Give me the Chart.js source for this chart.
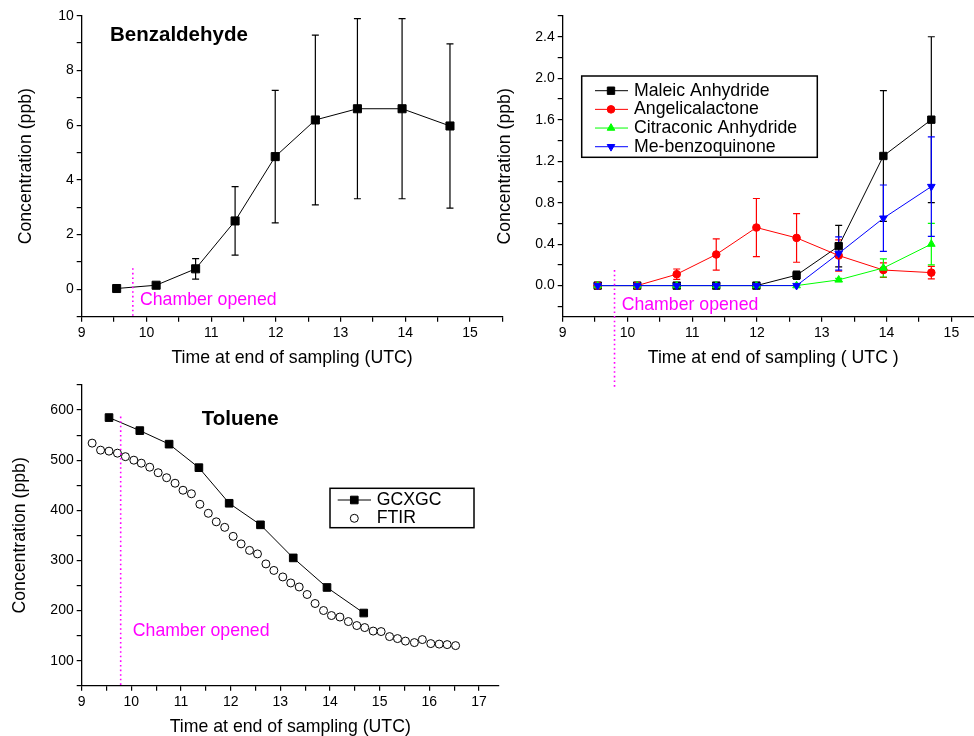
<!DOCTYPE html>
<html lang="en">
<head>
  <meta charset="UTF-8" />
  <title>Chamber VOC concentrations</title>
  <script src="https://cdn.jsdelivr.net/npm/chart.js@4.4.1/dist/chart.umd.min.js"></script>
  <style>
    * { margin: 0; padding: 0; box-sizing: border-box; }
    body {
      width: 974px;
      height: 736px;
      overflow: hidden;
      background: #ffffff;
      position: relative;
    }
    canvas { position: absolute; }
    #benzChart { left: 0; top: 0; }
    #quinoneChart { left: 490px; top: 0; }
    #tolueneChart { left: 0; top: 370px; }
  </style>
</head>
<body>
  <canvas id="benzChart" width="510" height="372"></canvas>
  <canvas id="quinoneChart" width="500" height="392"></canvas>
  <canvas id="tolueneChart" width="520" height="380"></canvas>

  <script>
    // ---- data ----
    // sampling end times (UTC hours), shared by the GCxGC panels
    const sampleTime = [9.54, 10.15, 10.76, 11.37, 11.99, 12.61, 13.26, 13.95, 14.69];

    // Benzaldehyde (ppb) and error bars
    const benzConc = [0.03, 0.15, 0.75, 2.5, 4.85, 6.19, 6.6, 6.6, 5.97];
    const benzErr  = [0, 0, 0.375, 1.25, 2.42, 3.1, 3.29, 3.29, 3.0];

    // ring-opening products (ppb)
    const maleicConc     = [0, 0, 0, 0, 0, 0.10, 0.38, 1.25, 1.60];
    const maleicErr      = [0, 0, 0, 0, 0, 0.04, 0.20, 0.63, 0.80];
    const angelicaConc   = [0, 0, 0.11, 0.30, 0.56, 0.46, 0.29, 0.15, 0.125];
    const angelicaErr    = [0, 0, 0.05, 0.15, 0.28, 0.235, 0.15, 0.07, 0.06];
    const citraconicConc = [0, 0, 0, 0, 0, 0, 0.055, 0.17, 0.40];
    const citraconicErr  = [0, 0, 0, 0, 0, 0, 0.015, 0.087, 0.20];
    const quinoneConc    = [0, 0, 0, 0, 0, 0, 0.31, 0.65, 0.955];
    const quinoneErr     = [0, 0, 0, 0, 0, 0, 0.16, 0.32, 0.48];

    // Toluene, GCxGC
    const gcTime = [9.55, 10.17, 10.76, 11.36, 11.97, 12.60, 13.26, 13.94, 14.68];
    const gcConc = [585, 559, 532, 485, 414, 371, 305, 246, 195];

    // Toluene, FTIR
    const ftirTime = [9.21, 9.38, 9.55, 9.72, 9.88, 10.05, 10.20, 10.37, 10.54, 10.71,
                      10.88, 11.04, 11.21, 11.38, 11.55, 11.71, 11.88, 12.05, 12.21, 12.38,
                      12.54, 12.71, 12.87, 13.05, 13.21, 13.38, 13.54, 13.70, 13.87, 14.03,
                      14.20, 14.37, 14.54, 14.70, 14.87, 15.03, 15.20, 15.36, 15.52, 15.70,
                      15.86, 16.03, 16.20, 16.36, 16.53];
    const ftirConc = [534, 520, 518, 514, 507, 500, 494, 486, 475, 465,
                      454, 440, 433, 412, 394, 377, 366, 348, 333, 320,
                      313, 293, 280, 267, 255, 247, 232, 214, 200, 190,
                      187, 178, 170, 166, 159, 158, 148, 144, 139, 136,
                      142, 134, 133, 132, 130];

    const chamberOpened = 9.79;   // UTC hour the chamber was opened

    // ---- common styling ----
    const FONT = "'Liberation Sans', Arial, Helvetica, sans-serif";
    Chart.defaults.font.family = FONT;
    Chart.defaults.color = '#000';
    Chart.defaults.animation = false;

    const pts = (xs, ys) => xs.map((x, i) => ({ x: x, y: ys[i] }));

    // axis with outward ticks, labels only on the major ones
    function makeAxis(o) {
      return {
        type: 'linear',
        min: o.min,
        max: o.max,
        afterFit: s => { if (s.isHorizontal()) s.height = o.size; else s.width = o.size; },
        border: { display: true, color: '#000', width: 1.3 },
        grid: { drawOnChartArea: false, drawTicks: true, tickLength: 5, color: '#000', lineWidth: 1.2 },
        ticks: {
          stepSize: o.step,
          includeBounds: false,
          autoSkip: false,
          maxRotation: 0,
          padding: 3,
          color: '#000',
          font: { size: 14 },
          callback: v => o.major(v) ? o.fmt(v) : ''
        },
        title: { display: true, text: o.title, color: '#000', font: { size: 17.7 }, padding: o.titlePad }
      };
    }
    const isInt = v => Math.abs(v - Math.round(v)) < 1e-6;

    // error bars, dotted "chamber opened" marker, panel title, boxed legend
    const decorPlugin = {
      id: 'decor',
      beforeDatasetsDraw(chart) {
        const { ctx, scales: { x, y } } = chart;
        chart.data.datasets.forEach(ds => {
          if (!ds.errors) return;
          ctx.save();
          ctx.strokeStyle = ds.borderColor;
          ctx.lineWidth = 1.2;
          ds.data.forEach((p, i) => {
            const e = ds.errors[i];
            if (!e) return;
            const px = x.getPixelForValue(p.x);
            const top = y.getPixelForValue(p.y + e);
            const bot = y.getPixelForValue(p.y - e);
            ctx.beginPath();
            ctx.moveTo(px, top); ctx.lineTo(px, bot);
            ctx.moveTo(px - 3.5, top); ctx.lineTo(px + 3.5, top);
            ctx.moveTo(px - 3.5, bot); ctx.lineTo(px + 3.5, bot);
            ctx.stroke();
          });
          ctx.restore();
        });
      },
      afterDraw(chart, args, opts) {
        const { ctx, scales: { x, y } } = chart;
        ctx.save();

        // chamber opened marker
        const c = opts.chamber;
        const cx = x.getPixelForValue(c.x);
        ctx.strokeStyle = '#ff00ff';
        ctx.lineWidth = 1.6;
        ctx.setLineDash([1.6, 3]);
        ctx.beginPath();
        ctx.moveTo(cx, y.getPixelForValue(c.top));
        ctx.lineTo(cx, y.bottom + c.extend);
        ctx.stroke();
        ctx.setLineDash([]);
        ctx.fillStyle = '#ff00ff';
        ctx.font = '17.7px ' + FONT;
        ctx.textAlign = 'left';
        ctx.textBaseline = 'middle';
        ctx.fillText('Chamber opened', x.getPixelForValue(c.labelX), y.getPixelForValue(c.labelY));

        // panel title
        if (opts.heading) {
          ctx.fillStyle = '#000';
          ctx.font = 'bold 20.5px ' + FONT;
          ctx.fillText(opts.heading.text, opts.heading.x, opts.heading.y);
        }

        // legend box
        const lg = opts.legend;
        if (lg) {
          ctx.lineWidth = 1.5;
          ctx.strokeStyle = '#000';
          ctx.strokeRect(lg.x, lg.y, lg.w, lg.h);
          ctx.font = '17.7px ' + FONT;
          chart.data.datasets.forEach((ds, i) => {
            const cy = lg.y + lg.rowTop + i * lg.rowStep;
            if (ds.showLine) {
              ctx.strokeStyle = ds.borderColor;
              ctx.lineWidth = 1;
              ctx.beginPath();
              ctx.moveTo(lg.x + lg.lineStart, cy);
              ctx.lineTo(lg.x + lg.lineEnd, cy);
              ctx.stroke();
            }
            ctx.fillStyle = ds.pointBackgroundColor || ds.borderColor;
            ctx.strokeStyle = ds.pointBorderColor || ds.borderColor;
            ctx.lineWidth = 1;
            Chart.helpers.drawPoint(ctx, {
              pointStyle: ds.pointStyle,
              radius: ds.pointRadius,
              rotation: ds.pointRotation || 0,
              borderWidth: 1
            }, lg.x + lg.marker, cy);
            ctx.fillStyle = '#000';
            ctx.fillText(ds.label, lg.x + lg.text, cy);
          });
        }
        ctx.restore();
      }
    };

    function series(label, xs, ys, color, style, radius, extra) {
      return Object.assign({
        label: label,
        data: pts(xs, ys),
        showLine: true,
        borderColor: color,
        backgroundColor: color,
        pointBackgroundColor: color,
        pointBorderColor: color,
        borderWidth: 1,
        pointStyle: style,
        pointRadius: radius,
        pointHoverRadius: radius
      }, extra || {});
    }

    const baseOptions = (plugins, scales, padding) => ({
      responsive: false,
      layout: { padding: padding },
      plugins: Object.assign({ legend: { display: false }, tooltip: { enabled: false } }, plugins),
      scales: scales
    });

    // ---- Benzaldehyde ----
    new Chart(document.getElementById('benzChart'), {
      type: 'scatter',
      data: {
        datasets: [series('Benzaldehyde', sampleTime, benzConc, '#000', 'rect', 5.7, { errors: benzErr })]
      },
      options: baseOptions(
        { decor: {
            chamber: { x: chamberOpened, top: 0.77, extend: 0, labelX: 9.9, labelY: -0.39 },
            heading: { text: 'Benzaldehyde', x: 110, y: 35 }
        } },
        {
          x: makeAxis({ min: 9, max: 15.5, step: 0.5, size: 55.3, major: isInt, fmt: v => v,
                        title: 'Time at end of sampling (UTC)', titlePad: { top: 0, bottom: 3.4 } }),
          y: makeAxis({ min: -1, max: 10, step: 1, size: 81.7,
                        major: v => Math.round(v) % 2 === 0, fmt: v => Math.round(v),
                        title: 'Concentration (ppb)', titlePad: { top: 15.7, bottom: 0 } })
        },
        { left: 0, right: 7.6, top: 15.7, bottom: 0 }
      ),
      plugins: [decorPlugin]
    });

    // ---- ring-opening products ----
    new Chart(document.getElementById('quinoneChart'), {
      type: 'scatter',
      data: {
        datasets: [
          series('Maleic Anhydride', sampleTime, maleicConc, '#000000', 'rect', 5.2,
                 { errors: maleicErr, order: 4 }),
          series('Angelicalactone', sampleTime, angelicaConc, '#ff0000', 'circle', 3.8,
                 { errors: angelicaErr, order: 3 }),
          series('Citraconic Anhydride', sampleTime, citraconicConc, '#00ff00', 'triangle', 4.4,
                 { errors: citraconicErr, order: 2 }),
          series('Me-benzoquinone', sampleTime, quinoneConc, '#0000ff', 'triangle', 4.4,
                 { errors: quinoneErr, order: 1, pointRotation: 180 })
        ]
      },
      options: baseOptions(
        { decor: {
            chamber: { x: 9.8, top: 0.15, extend: 71, labelX: 9.91, labelY: -0.19 },
            legend: { x: 91.7, y: 76, w: 235.6, h: 81.3, rowTop: 14.7, rowStep: 18.67,
                      lineStart: 13.3, lineEnd: 46.3, marker: 29.3, text: 52.3 }
        } },
        {
          x: makeAxis({ min: 9, max: 15.5, step: 0.5, size: 75.3, major: isInt, fmt: v => v,
                        title: 'Time at end of sampling ( UTC )', titlePad: { top: 0, bottom: 23.4 } }),
          y: makeAxis({ min: -0.3, max: 2.6, step: 0.2, size: 72.7,
                        major: v => Math.round(v * 10) % 4 === 0, fmt: v => v.toFixed(1),
                        title: 'Concentration (ppb)', titlePad: { top: 4.4, bottom: 0 } })
        },
        { left: 0, right: 5.9, top: 16, bottom: 0 }
      ),
      plugins: [decorPlugin]
    });

    // ---- Toluene ----
    new Chart(document.getElementById('tolueneChart'), {
      type: 'scatter',
      data: {
        datasets: [
          series('GCXGC', gcTime, gcConc, '#000', 'rect', 5.4),
          series('FTIR', ftirTime, ftirConc, '#000', 'circle', 4,
                 { showLine: false, pointBackgroundColor: '#ffffff', backgroundColor: '#ffffff' })
        ]
      },
      options: baseOptions(
        { decor: {
            chamber: { x: 9.785, top: 587, extend: 0, labelX: 10.03, labelY: 158 },
            heading: { text: 'Toluene', x: 201.7, y: 49.3 },
            legend: { x: 330, y: 118.3, w: 144, h: 39.4, rowTop: 11.7, rowStep: 18.3,
                      lineStart: 7.7, lineEnd: 41, marker: 24.3, text: 46.7 }
        } },
        {
          x: makeAxis({ min: 9, max: 17.4, step: 0.5, size: 64.3, major: isInt, fmt: v => v,
                        title: 'Time at end of sampling (UTC)', titlePad: { top: 0, bottom: 12.4 } }),
          y: makeAxis({ min: 50, max: 650, step: 50, size: 81.7,
                        major: v => Math.round(v) % 100 === 0, fmt: v => Math.round(v),
                        title: 'Concentration (ppb)', titlePad: { top: 9.1, bottom: 0 } })
        },
        { left: 0, right: 21.2, top: 15, bottom: 0 }
      ),
      plugins: [decorPlugin]
    });
  </script>
</body>
</html>
